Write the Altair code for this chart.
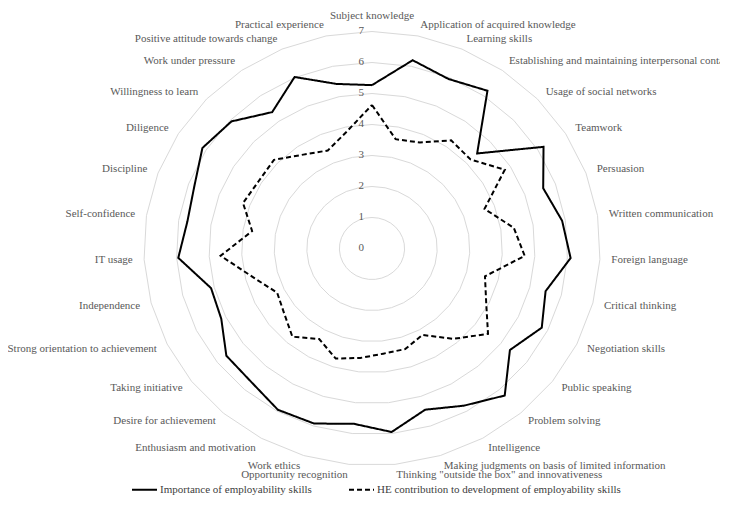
import math
import pandas as pd
import altair as alt

categories = [
    "Subject knowledge", "Application of acquired knowledge", "Learning skills",
    "Establishing and maintaining interpersonal contact", "Usage of social networks",
    "Teamwork", "Persuasion", "Written communication", "Foreign language",
    "Critical thinking", "Negotiation skills", "Public speaking", "Problem solving",
    "Intelligence", "Making judgments on basis of limited information",
    "Thinking \"outside the box\" and innovativeness", "Opportunity recognition",
    "Work ethics", "Enthusiasm and motivation", "Desire for achievement",
    "Taking initiative", "Strong orientation to achievement", "Independence",
    "IT usage", "Self-confidence", "Discipline", "Diligence", "Willingness to learn",
    "Work under pressure", "Positive attitude towards change", "Practical experience",
]

importance = [5.27, 6.2, 5.95, 6.2, 4.45, 6.2, 5.6, 5.9, 6.1, 5.5, 5.8, 5.35, 6.25,
              5.8, 5.45, 5.95, 5.68, 5.92, 5.95, 5.68, 5.65, 5.15, 5.1, 5.95, 5.73,
              5.81, 6.13, 5.95, 5.36, 6.02, 5.42]

he_contribution = [4.63, 3.6, 3.72, 4.25, 4.17, 4.8, 3.68, 4.4, 4.69, 3.58, 3.9, 4.5,
                   3.84, 3.19, 3.4, 3.41, 3.55, 3.72, 3.34, 3.75, 3.41, 3.24, 3.75,
                   4.65, 3.72, 4.22, 4.1, 4.15, 3.69, 3.44, 3.85]

series_names = ["Importance of employability skills",
                "HE contribution to development of employability skills"]

ring_levels = [0, 1, 2, 3, 4, 5, 6, 7]

N = len(categories)
LABEL_R = 7.35


def ang(k):
    return 2 * math.pi * k / N


rows = []
for name, vals in zip(series_names, [importance, he_contribution]):
    for k in range(N + 1):
        i = k % N
        v = vals[i]
        rows.append({"series": name, "order": k, "value": v,
                     "x": v * math.sin(ang(i)), "y": v * math.cos(ang(i))})
lines_df = pd.DataFrame(rows)

grid_rows = []
for lev in ring_levels[1:]:
    for k in range(N + 1):
        i = k % N
        grid_rows.append({"level": lev, "order": k,
                          "x": lev * math.sin(ang(i)), "y": lev * math.cos(ang(i))})
grid_df = pd.DataFrame(grid_rows)

lab_rows = []
for i, c in enumerate(categories):
    s = math.sin(ang(i))
    side = "center" if abs(s) < 1e-6 else ("left" if s > 0 else "right")
    lab_rows.append({"cat": c, "x": LABEL_R * s, "y": LABEL_R * math.cos(ang(i)), "side": side})
lab_df = pd.DataFrame(lab_rows)

ring_lab_df = pd.DataFrame({"level": ring_levels, "x": [0] * len(ring_levels),
                            "y": ring_levels, "txt": [str(v) for v in ring_levels]})

xs = alt.Scale(domain=[-11.166, 10.675], nice=False, zero=False)
ys = alt.Scale(domain=[-8.371, 7.758], nice=False, zero=False)
X = lambda: alt.X("x:Q", scale=xs, axis=None)
Y = lambda: alt.Y("y:Q", scale=ys, axis=None)

FONT = "Liberation Serif, Times New Roman, serif"
GREY = "#595959"

grid = alt.Chart(grid_df).mark_line(stroke="#d9d9d9", strokeWidth=1).encode(
    x=X(), y=Y(), detail="level:N", order="order:Q")

ring_labels = alt.Chart(ring_lab_df).mark_text(
    align="right", baseline="middle", dx=-8, font=FONT, fontSize=11, color=GREY
).encode(x=X(), y=Y(), text="txt:N")

series = alt.Chart(lines_df).mark_line(stroke="black", strokeWidth=2).encode(
    x=X(), y=Y(), order="order:Q",
    strokeDash=alt.StrokeDash(
        "series:N",
        scale=alt.Scale(domain=series_names, range=[[1, 0], [5, 3]]),
        legend=alt.Legend(
            title=None, orient="none", legendX=123, legendY=468, direction="horizontal",
            symbolType="stroke", symbolSize=625, symbolStrokeWidth=2,
            symbolStrokeColor="black", labelFont=FONT, labelFontSize=11,
            labelColor="#404040", columnPadding=33, labelOffset=2, labelLimit=400,
        ),
    ),
)

lab_left = alt.Chart(lab_df).transform_filter(alt.datum.side == "left").mark_text(
    align="left", baseline="middle", font=FONT, fontSize=11, color=GREY
).encode(x=X(), y=Y(), text="cat:N")
lab_right = alt.Chart(lab_df).transform_filter(alt.datum.side == "right").mark_text(
    align="right", baseline="middle", font=FONT, fontSize=11, color=GREY
).encode(x=X(), y=Y(), text="cat:N")
lab_center = alt.Chart(lab_df).transform_filter(alt.datum.side == "center").mark_text(
    align="center", baseline="bottom", font=FONT, fontSize=11, color=GREY
).encode(x=X(), y=Y(), text="cat:N")

chart = alt.layer(grid, ring_labels, series, lab_left, lab_right, lab_center).properties(
    width=712, height=500, padding=0, autosize=alt.AutoSizeParams(type="none")
).configure_view(stroke=None)

chart.save("out.html", embed_options={"renderer": "svg", "actions": False})
